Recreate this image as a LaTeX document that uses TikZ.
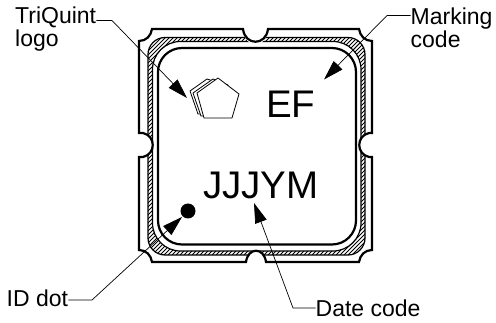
\documentclass[tikz,border=0pt]{standalone}
\usepackage{fontspec}
\setmainfont{Liberation Sans}
\usetikzlibrary{arrows.meta}
\tikzset{
  lbl/.style={inner sep=0pt,anchor=base west,font=\fontsize{23}{24}\selectfont,text=black},
  big/.style={inner sep=0pt,anchor=base west,font=\fontsize{38.5}{40}\selectfont,text=black},
  leader/.style={line width=0.7pt,-{Triangle[length=20pt,width=12pt]},shorten >=0pt},
  thick line/.style={line width=2.2pt,line join=miter},
  thin line/.style={line width=1.2pt},
  hatching/.style={line width=1pt},
  logo/.style={line width=0.8pt,fill=white,line join=miter}
}
\begin{document}
\begin{tikzpicture}[x=1pt,y=-1pt]
\useasboundingbox (0,0) rectangle (496,323);
% hatched ring
\begin{scope}
  \clip[rounded corners=17pt] (148,37.5) rectangle (365,255);
  \foreach \s in {-72,-68,...,370}{
    \draw[hatching] (\s,255) -- ++(218,-218);
  }
\end{scope}
\draw[thin line,rounded corners=17pt] (148,37.5) rectangle (365,255);
\draw[thin line,fill=white,rounded corners=28pt] (152.5,41.5) rectangle (361,251);
\draw[thick line,rounded corners=24pt] (158,48) rectangle (356,244.5);
% notches: erase the ring, then stroke the outline
\path[fill=white] (243,29) .. controls (245,50) and (266,50) .. (268,29) -- cycle;
\path[fill=white] (246,262) .. controls (248,246) and (264,246) .. (266,262) -- cycle;
\path[fill=white] (139,133) -- (143,133) .. controls (157,136) and (157,154) .. (143,157) -- (139,157) -- cycle;
\path[fill=white] (373,133) -- (369,133) .. controls (355,136) and (355,154) .. (369,157) -- (373,157) -- cycle;
\draw[thick line]
  (152,29) -- (243,29) .. controls (245,46) and (266,46) .. (268,29) -- (359,29)
  .. controls (360,36) and (365,41) .. (372,41)
  -- (372,133) -- (369,133) .. controls (356,136) and (356,154) .. (369,157) -- (372,157)
  -- (372,250) .. controls (365,250) and (360,255) .. (359,262)
  -- (266,262) .. controls (264,247) and (248,247) .. (246,262) -- (152,262)
  .. controls (151,255) and (146,250) .. (139,250)
  -- (139,157) -- (143,157) .. controls (156,154) and (156,136) .. (143,133) -- (139,133)
  -- (139,41) .. controls (146,41) and (151,36) .. (152,29) -- cycle;
% logo
\draw[logo] (207,79) -- (190,91) -- (198,114) -- (225,114) -- (225,85) -- cycle;
\draw[logo] (213,79) -- (193,93) -- (201,116) -- (228,116) -- (228,85) -- cycle;
\draw[logo] (218,78) -- (239,94) -- (232,118) -- (204,118) -- (197,93) -- cycle;
% dot
\node[circle,fill=black,inner sep=0pt,minimum size=15pt] (dot) at (188,211) {};
% texts
\node[big] (ef) at (266,118) {EF};
\node[big] (jjj) at (203,199) {JJJYM};
\node[lbl] (tq) at (15,24) {TriQuint};
\node[lbl] (lg) at (15,47) {logo};
\node[lbl] (mk) at (410.5,25) {Marking};
\node[lbl] (cd) at (410.5,48) {code};
\node[lbl] (id) at (6.5,306.5) {ID dot};
\node[lbl] (dc) at (315.5,317) {Date code};
% connectors
\coordinate (e1) at (112,20.5);
\coordinate (t1) at (187,98);
\coordinate (e2) at (387,15.5);
\coordinate (t2) at (324,79.5);
\coordinate (e3) at (92,300);
\coordinate (t3) at (182,217);
\coordinate (e4) at (293,308);
\coordinate (t4) at (254,203);
\draw[leader] (tq.east |- e1) -- (e1) -- (t1);
\draw[leader] (mk.west |- e2) -- (e2) -- (t2);
\draw[leader] (id.east |- e3) -- (e3) -- (t3);
\draw[leader] (dc.west |- e4) -- (e4) -- (t4);
\end{tikzpicture}
\end{document}
